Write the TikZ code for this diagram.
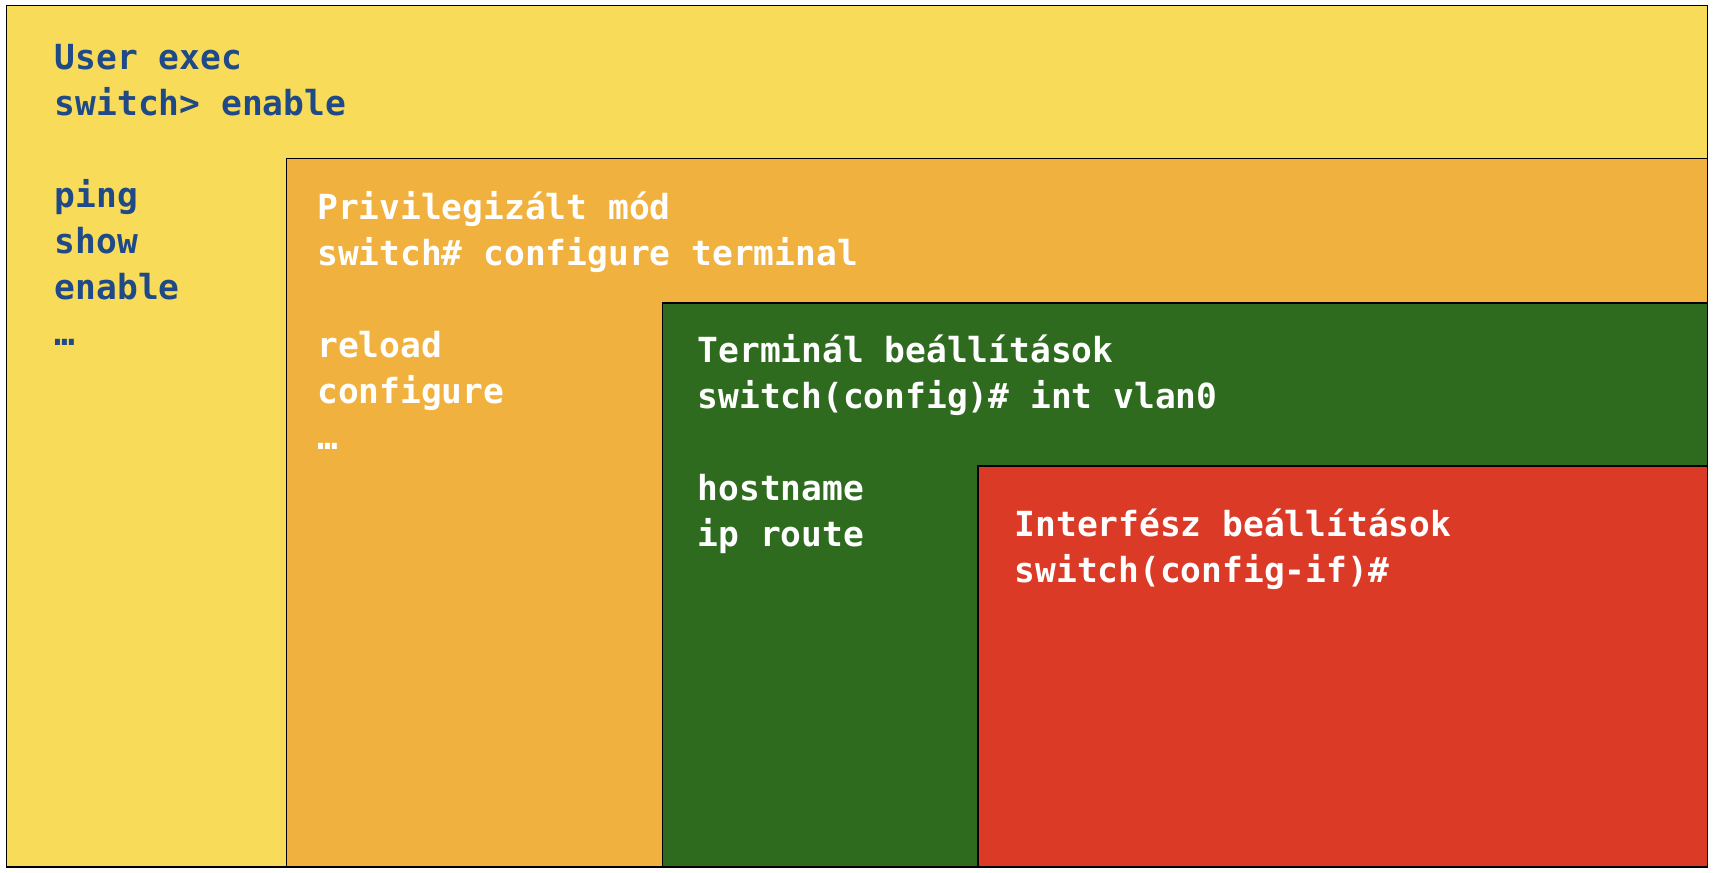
\documentclass[tikz,border=0pt]{standalone}
\usepackage{fontspec}
\setmonofont{DejaVu Sans Mono}
\usepackage{xcolor}
\definecolor{usery}{HTML}{F9DB5A}
\definecolor{privo}{HTML}{F0B13E}
\definecolor{confg}{HTML}{2E6B1F}
\definecolor{ifr}{HTML}{DB3A26}
\definecolor{txtb}{HTML}{1F4A87}

\begin{document}
\begin{tikzpicture}[x=1pt,y=1pt,yscale=-1,xscale=1,
	mode/.style={draw=black,line width=1.6pt},
	cmd/.style={anchor=base west,inner sep=0pt,align=left,font=\ttfamily\bfseries\fontsize{31.6}{42}\selectfont}]
	\useasboundingbox (0,0) rectangle (1568,798);
	\draw [mode,fill=usery] (6,5) rectangle (1562,793);
	\draw [mode,fill=privo] (262,145) rectangle (1562,793);
	\draw [mode,fill=confg] (606,277) rectangle (1562,793);
	\draw [mode,fill=ifr] (895,426) rectangle (1562,793);
	\node (user) [cmd,text=txtb] at (50,316) {User exec\\switch> enable\\[42pt]ping\\show\\enable\\…};
	\node (priv) [cmd,text=white] at (290,411) {Privilegizált mód\\switch\# configure terminal\\[42pt]reload\\configure\\…};
	\node (term) [cmd,text=white] at (638,500) {Terminál beállítások\\switch(config)\# int vlan0\\[42pt]hostname\\ip route};
	\node (intf) [cmd,text=white] at (928,533) {Interfész beállítások\\switch(config-if)\#};
\end{tikzpicture}
\end{document}
